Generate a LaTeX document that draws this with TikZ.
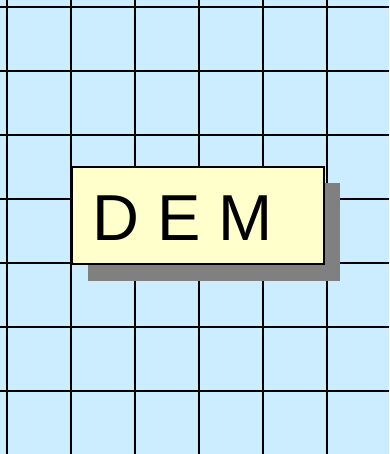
\documentclass[tikz,border=0pt]{standalone}
\usepackage{fontspec}
\setmainfont{Liberation Sans}
\definecolor{gridbg}{RGB}{204,236,255}
\definecolor{boxfill}{RGB}{255,255,204}
\definecolor{shadowgray}{RGB}{128,128,128}
\begin{document}
\begin{tikzpicture}[x=1pt,y=-1pt,
  gridline/.style={line width=1.6pt,black},
  shadowbox/.style={rectangle,fill=shadowgray,draw=none,minimum width=252pt,minimum height=98pt,inner sep=0pt},
  mainbox/.style={rectangle,fill=boxfill,draw=black,line width=1.6pt,minimum width=252pt,minimum height=97pt,inner sep=0pt},
  bigtext/.style={font=\fontsize{65}{78}\selectfont,inner sep=0pt,anchor=base west}]
\useasboundingbox (0,0) rectangle (389,454);
\fill[gridbg] (0,0) rectangle (389,454);
\foreach \i in {0,...,6} {
  \draw[gridline] ({7+64*\i},0) -- ({7+64*\i},454);
}
\foreach \j in {0,...,6} {
  \draw[gridline] (0,{7+64*\j}) -- (389,{7+64*\j});
}
\node[shadowbox] (shadow) at (214,232) {};
\node[mainbox] (box) at (198,215.5) {};
\node[bigtext] (label) at (92,240) {D E M};
\end{tikzpicture}
\end{document}
